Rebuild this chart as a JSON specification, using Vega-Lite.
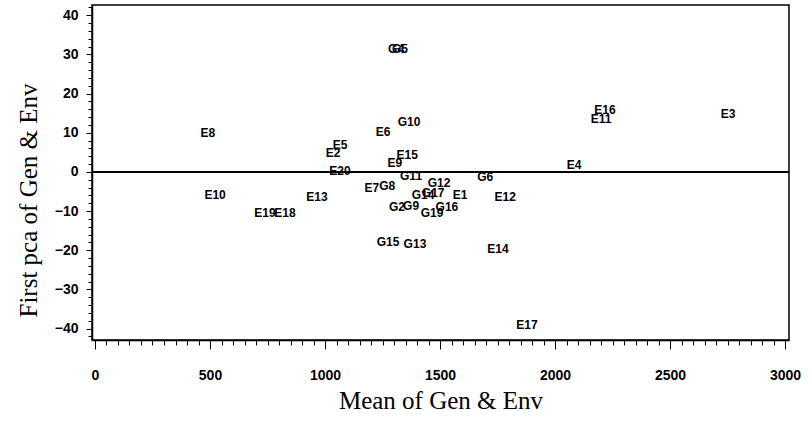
{
  "$schema": "https://vega.github.io/schema/vega-lite/v6.json",
  "width": 697,
  "height": 335,
  "autosize": {"type": "none"},
  "padding": {"left": 92, "top": 5, "right": 22, "bottom": 82},
  "background": "white",
  "config": {
    "view": {"stroke": "black", "strokeWidth": 1.5},
    "axis": {
      "grid": false,
      "domainColor": "black",
      "domainWidth": 1.5,
      "tickColor": "black",
      "tickWidth": 1,
      "labelFont": "Liberation Sans",
      "labelFontWeight": "bold",
      "labelFontSize": 14,
      "labelColor": "black",
      "titleFont": "Liberation Serif",
      "titleFontWeight": "normal",
      "titleFontSize": 25,
      "titleColor": "black"
    }
  },
  "data": {
    "values": [
      {"label": "E8", "x": 491, "y": 9.9},
      {"label": "E10", "x": 522, "y": -5.9},
      {"label": "E19", "x": 739, "y": -10.5},
      {"label": "E18", "x": 826, "y": -10.5},
      {"label": "E13", "x": 965, "y": -6.4},
      {"label": "E2", "x": 1035, "y": 4.8},
      {"label": "E5", "x": 1065, "y": 6.9},
      {"label": "E20", "x": 1065, "y": 0.3},
      {"label": "E6", "x": 1252, "y": 10.2},
      {"label": "G10", "x": 1365, "y": 12.8},
      {"label": "E15", "x": 1357, "y": 4.3},
      {"label": "E9", "x": 1304, "y": 2.3},
      {"label": "G11", "x": 1374, "y": -1.0},
      {"label": "E7", "x": 1204, "y": -4.1},
      {"label": "G8", "x": 1270, "y": -3.6},
      {"label": "G12", "x": 1496, "y": -2.8},
      {"label": "G6", "x": 1696, "y": -1.3},
      {"label": "E1", "x": 1587, "y": -5.9},
      {"label": "E12", "x": 1783, "y": -6.4},
      {"label": "G14", "x": 1426, "y": -5.9},
      {"label": "G17", "x": 1470, "y": -5.4},
      {"label": "G2", "x": 1313, "y": -8.9},
      {"label": "G9", "x": 1374, "y": -8.7},
      {"label": "G19", "x": 1465, "y": -10.5},
      {"label": "G16", "x": 1530, "y": -8.9},
      {"label": "G15", "x": 1274, "y": -17.9},
      {"label": "G13", "x": 1391, "y": -18.4},
      {"label": "E14", "x": 1752, "y": -19.6},
      {"label": "E17", "x": 1878, "y": -39.0},
      {"label": "G4", "x": 1309, "y": 31.4},
      {"label": "G5", "x": 1326, "y": 31.4},
      {"label": "E16", "x": 2217, "y": 15.8},
      {"label": "E11", "x": 2200, "y": 13.5},
      {"label": "E3", "x": 2752, "y": 14.8},
      {"label": "E4", "x": 2083, "y": 1.8}
    ]
  },
  "layer": [
    {
      "mark": {
        "type": "text",
        "font": "Liberation Sans",
        "fontWeight": "bold",
        "fontSize": 12,
        "align": "center",
        "baseline": "middle",
        "color": "black"
      },
      "encoding": {
        "x": {
          "field": "x",
          "type": "quantitative",
          "scale": {"domain": [-13, 3017], "nice": false, "zero": false},
          "axis": {
            "title": "Mean of Gen & Env",
            "format": "d",
            "values": [0,50,100,150,200,250,300,350,400,450,500,550,600,650,700,750,800,850,900,950,1000,1050,1100,1150,1200,1250,1300,1350,1400,1450,1500,1550,1600,1650,1700,1750,1800,1850,1900,1950,2000,2050,2100,2150,2200,2250,2300,2350,2400,2450,2500,2550,2600,2650,2700,2750,2800,2850,2900,2950,3000],
            "labelExpr": "datum.value % 500 === 0 ? datum.label : ''",
            "tickSize": {"condition": {"test": "datum.value % 500 === 0", "value": 9}, "value": 5},
            "labelPadding": 19,
            "titleY": 60,
            "titleBaseline": "middle",
            "labelFlush": false,
            "labelOverlap": false
          }
        },
        "y": {
          "field": "y",
          "type": "quantitative",
          "scale": {"domain": [-42.9, 42.6], "nice": false, "zero": false},
          "axis": {
            "title": "First pca of Gen & Env",
            "format": "d",
            "values": [-42,-40,-38,-36,-34,-32,-30,-28,-26,-24,-22,-20,-18,-16,-14,-12,-10,-8,-6,-4,-2,0,2,4,6,8,10,12,14,16,18,20,22,24,26,28,30,32,34,36,38,40,42],
            "labelExpr": "datum.value % 10 === 0 ? datum.label : ''",
            "tickSize": {"condition": {"test": "datum.value % 10 === 0", "value": 6}, "value": 4},
            "labelPadding": 8,
            "titleX": -64,
            "titleY": 195,
            "titleBaseline": "middle",
            "labelFlush": false,
            "labelOverlap": false
          }
        },
        "text": {"field": "label", "type": "nominal"}
      }
    },
    {
      "mark": {"type": "rule", "color": "black", "strokeWidth": 1.5},
      "encoding": {
        "y": {
          "datum": 0,
          "type": "quantitative",
          "axis": {
            "title": "First pca of Gen & Env",
            "format": "d",
            "values": [-42,-40,-38,-36,-34,-32,-30,-28,-26,-24,-22,-20,-18,-16,-14,-12,-10,-8,-6,-4,-2,0,2,4,6,8,10,12,14,16,18,20,22,24,26,28,30,32,34,36,38,40,42],
            "labelExpr": "datum.value % 10 === 0 ? datum.label : ''",
            "tickSize": {"condition": {"test": "datum.value % 10 === 0", "value": 6}, "value": 4},
            "labelPadding": 8,
            "titleX": -64,
            "titleY": 195,
            "titleBaseline": "middle",
            "labelFlush": false,
            "labelOverlap": false
          }
        }
      }
    }
  ]
}
